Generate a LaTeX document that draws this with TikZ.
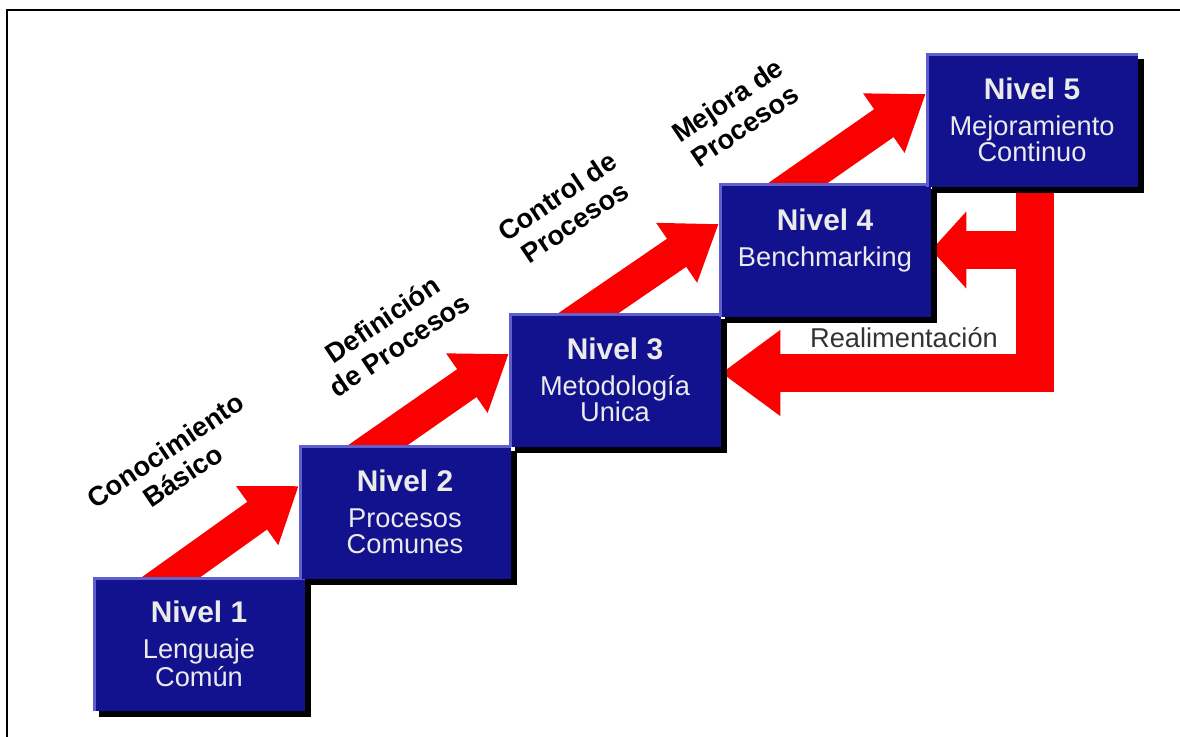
\documentclass[tikz,border=0pt]{standalone}
\usepackage{fontspec}
\setmainfont{Liberation Sans}
\usetikzlibrary{positioning,arrows.meta,shadows,backgrounds,calc}
\definecolor{lvlblue}{RGB}{18,18,142}
\definecolor{lvledge}{RGB}{95,95,205}
\definecolor{stepred}{RGB}{250,0,0}

\begin{document}
\begin{tikzpicture}[
      x=0.02cm, y=0.02cm,
      lvl/.style={fill=lvlblue, minimum width=4.24cm, minimum height=2.68cm, inner sep=0pt, align=center,
        text=white!92!black, font=\fontsize{15.5}{14.5}\selectfont,
        drop shadow={shadow xshift=0.12cm, shadow yshift=-0.12cm, fill=black, opacity=1},
        path picture={\draw[lvledge, line width=0.1cm] (path picture bounding box.south west)
          -- (path picture bounding box.north west) -- (path picture bounding box.north east);}},
      up/.style={stepred, line width=0.68cm, -{Triangle[width=1.38cm, length=1.02cm]}},
      back/.style={stepred, line width=0.76cm, line join=miter},
      lbl/.style={font=\bfseries\fontsize{15.5}{17.5}\selectfont, align=center, rotate=34}
  ]
    \useasboundingbox (0,0) rectangle (1180,737);
    \draw[line width=0.04cm] (7,0) -- (7,727) -- (1180,727);

    \node[lvl] (n1) at (199,93) {\textbf{\fontsize{17}{17}\selectfont Nivel 1}\\[6pt]Lenguaje\\Común};
    \node[lvl] (n2) at (405,225) {\textbf{\fontsize{17}{17}\selectfont Nivel 2}\\[6pt]Procesos\\Comunes};
    \node[lvl] (n3) at (615,357) {\textbf{\fontsize{17}{17}\selectfont Nivel 3}\\[6pt]Metodología\\Unica};
    \node[lvl] (n4) at (825,487) {\textbf{\fontsize{17}{17}\selectfont Nivel 4}\\[6pt]Benchmarking\\\mbox{}};
    \node[lvl] (n5) at (1032,617) {\textbf{\fontsize{17}{17}\selectfont Nivel 5}\\[6pt]Mejoramiento\\Continuo};

    \coordinate (fb) at ([xshift=0.06cm]n5.south);
    \begin{scope}[on background layer]
      \draw[up] ([shift={(-58,-22)}]n1.north) -- ([shift={(0,26)}]n2.west);
      \draw[up] ([shift={(-58,-22)}]n2.north) -- ([shift={(0,26)}]n3.west);
      \draw[up] ([shift={(-58,-22)}]n3.north) -- ([shift={(0,26)}]n4.west);
      \draw[up] ([shift={(-58,-22)}]n4.north) -- ([shift={(0,26)}]n5.west);
      % feedback
      \draw[back, -{Triangle[width=1.64cm, length=1.18cm]}] ([yshift=0.2cm]fb) |- ([shift={(0,7)}]n3.east);
      \draw[back, -{Triangle[width=1.5cm, length=0.7cm]}] (fb |- n4.east) -- (n4.east);
    \end{scope}

    \node[lbl] (l1) at (174,274) {Conocimiento\\Básico};
    \node[lbl] (l2) at (391,405) {Definición\\de Procesos};
    \node[lbl] (l3) at (566,528) {Control de\\Procesos};
    \node[lbl] (l4) at (736,624) {Mejora de\\Procesos};
    \node[font=\fontsize{15.5}{15}\selectfont, text=black!80, anchor=base] (fbtext) at (904,389) {Realimentación};
  \end{tikzpicture}
\end{document}
